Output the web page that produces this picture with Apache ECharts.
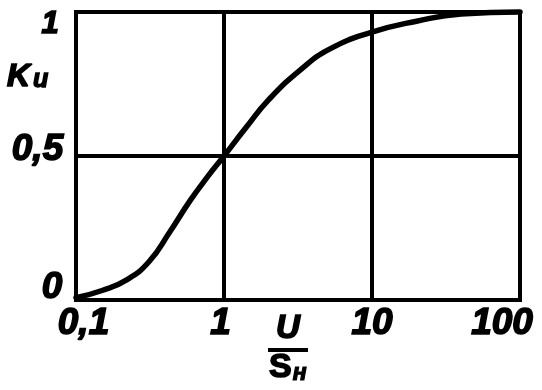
<!DOCTYPE html>
<html>
<head>
<meta charset="utf-8">
<script src="https://cdn.jsdelivr.net/npm/echarts@6/dist/echarts.min.js"></script>
<style>
html,body{margin:0;padding:0;background:#fff;}
#c{width:542px;height:390px;}
</style>
</head>
<body>
<div id="c"></div>
<script>
// Data
var xValues = [0.1, 0.15, 0.22, 0.31, 0.43, 0.59, 0.78, 1, 1.4, 2, 3.3, 5.2, 10, 20, 40, 100];
var kuValues = [0.008, 0.033, 0.07, 0.132, 0.236, 0.345, 0.43, 0.5, 0.597, 0.695, 0.80, 0.872, 0.93, 0.968, 0.993, 1.0];
var xTicks = [0.1, 1, 10, 100];
var xTickLabels = ['0,1', '1', '10', '100'];
var yTicks = [0, 0.5, 1];
var yTickLabels = ['0', '0,5', '1'];

var FONT = '"Liberation Sans", Arial, sans-serif';
var chart = echarts.init(document.getElementById('c'), null, {renderer: 'canvas'});

var seriesData = xValues.map(function (x, i) { return [x, kuValues[i]]; });

chart.setOption({
  backgroundColor: '#fff',
  animation: false,
  grid: {
    left: 76, top: 12, right: 22, bottom: 90,
    show: true, borderColor: '#000', borderWidth: 4,
    containLabel: false, outerBoundsMode: 'none'
  },
  xAxis: {
    type: 'log', logBase: 10, min: 0.1, max: 100,
    axisLine: {show: true, lineStyle: {color: '#000', width: 4}},
    axisTick: {show: false},
    axisLabel: {show: false},
    splitLine: {show: true, lineStyle: {color: '#000', width: 4}},
    minorSplitLine: {show: false}
  },
  yAxis: {
    type: 'value', min: 0, max: 1, interval: 0.5,
    axisLine: {show: true, lineStyle: {color: '#000', width: 4}},
    axisTick: {show: false},
    axisLabel: {show: false},
    splitLine: {show: true, lineStyle: {color: '#000', width: 4}}
  },
  series: [{
    type: 'line',
    data: seriesData,
    smooth: 0.5,
    showSymbol: false,
    symbol: 'none',
    clip: false,
    lineStyle: {color: '#000', width: 5.5, join: 'round', cap: 'round'}
  }]
});

function txtStyle(text, font, align) {
  return {text: text, font: font, fill: '#000', stroke: '#000', lineWidth: 1.6,
          align: align || 'center', verticalAlign: 'middle'};
}

// Labels positioned through the axes' own conversion
var graphics = [];
var xOffsets = [7.5, -3.5, 0, -18];
xTicks.forEach(function (v, i) {
  var p = chart.convertToPixel({xAxisIndex: 0, yAxisIndex: 0}, [v, 0]);
  graphics.push({
    type: 'text', x: p[0] + xOffsets[i], y: p[1] + 24,
    style: txtStyle(xTickLabels[i], 'italic bold 37px ' + FONT)
  });
});
var yPos = [[52, -12], [37.5, -6], [50, 12.5]];
yTicks.forEach(function (v, i) {
  var p = chart.convertToPixel({xAxisIndex: 0, yAxisIndex: 0}, [0.1, v]);
  var sz = (i === 2) ? 31 : 37;
  graphics.push({
    type: 'text', x: yPos[i][0], y: p[1] + yPos[i][1],
    style: txtStyle(yTickLabels[i], 'italic bold ' + sz + 'px ' + FONT)
  });
});
// Y axis name K_и
graphics.push({
  type: 'text', x: 7, y: 77,
  style: {
    text: '{k|K}{s|и}', fill: '#000', align: 'left', verticalAlign: 'middle',
    rich: {
      k: {font: 'italic bold 32px ' + FONT, fill: '#000', stroke: '#000', lineWidth: 1.6, verticalAlign: 'bottom'},
      s: {font: 'italic bold 25px ' + FONT, fill: '#000', stroke: '#000', lineWidth: 1.4, verticalAlign: 'bottom', padding: [0, 0, 0, 3]}
    }
  }
});
// X axis name U / S_н
graphics.push({
  type: 'text', x: 288, y: 329,
  style: txtStyle('U', 'italic bold 33px ' + FONT)
});
graphics.push({
  type: 'rect', shape: {x: 268, y: 348, width: 40, height: 4},
  style: {fill: '#000'}
});
graphics.push({
  type: 'text', x: 269, y: 368,
  style: {
    text: '{a|S}{b|н}', align: 'left', verticalAlign: 'middle', fill: '#000',
    rich: {
      a: {font: 'bold 34px ' + FONT, fill: '#000', stroke: '#000', lineWidth: 1.6, verticalAlign: 'bottom'},
      b: {font: 'italic bold 23px ' + FONT, fill: '#000', stroke: '#000', lineWidth: 1.2, verticalAlign: 'bottom', padding: [0, 0, 0, 1]}
    }
  }
});
chart.setOption({graphic: graphics});
</script>
</body>
</html>
